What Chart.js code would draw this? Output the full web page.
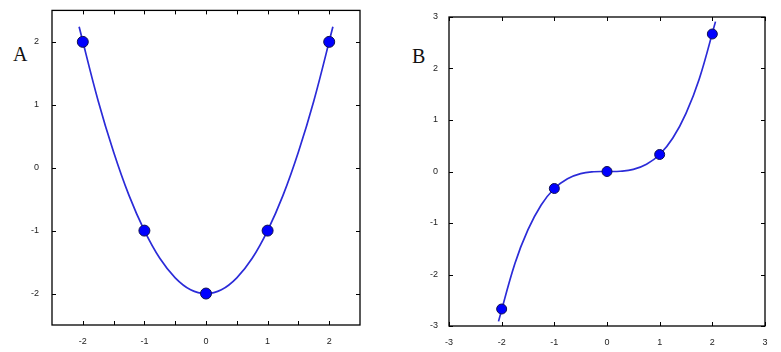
<html><head>
<script src="https://cdn.jsdelivr.net/npm/chart.js"></script>
<title>Interpolating polynomials</title>
<style>
body { margin: 0; background: #fff; width: 781px; height: 352px; position: relative; overflow: hidden; }
.panel { position: absolute; top: 0; }
.tag { position: absolute; font-family: "Liberation Serif", "DejaVu Serif", serif; font-size: 20px; color: #111; }
</style>
</head>
<body>
<div class="tag" style="left:13px; top:43px;">A</div>
<div class="tag" style="left:412px; top:45px;">B</div>
<canvas id="chartA" class="panel" style="left:0px;" width="390" height="352"></canvas>
<canvas id="chartB" class="panel" style="left:390px;" width="391" height="352"></canvas>

<script>
// sample points
const pointsX = [-2, -1, 0, 1, 2];
const pointsAY = [2, -1, -2, -1, 2];
const pointsBY = [-2.67, -0.33, 0, 0.33, 2.67];

// curves
const curveX = [-2.06, -1.75, -1.5, -1.25, -1, -0.75, -0.5, -0.25, 0, 0.25, 0.5, 0.75, 1, 1.25, 1.5, 1.75, 2.06];
const curveAY = [2.24, 1.06, 0.25, -0.44, -1, -1.44, -1.75, -1.94, -2, -1.94, -1.75, -1.44, -1, -0.44, 0.25, 1.06, 2.24];
const curveBY = [-2.91, -1.79, -1.13, -0.65, -0.33, -0.14, -0.04, -0.005, 0, 0.005, 0.04, 0.14, 0.33, 0.65, 1.13, 1.79, 2.91];

// ticks
const ticksAX = [-2, -1.5, -1, -0.5, 0, 0.5, 1, 1.5, 2];
const ticksAY = [-2, -1, 0, 1, 2];
const ticksB = [-3, -2, -1, 0, 1, 2, 3];

const tickFont = {family: '"Liberation Sans", Arial, sans-serif', size: 9};
const lineColor = '#2b2bd8';

const framePlugin = {
  id: 'frame',
  afterDraw(chart) {
    const {ctx, chartArea: a, scales} = chart;
    ctx.save();
    ctx.strokeStyle = '#000';
    ctx.lineWidth = 1.3;
    ctx.strokeRect(a.left, a.top, a.right - a.left, a.bottom - a.top);
    ctx.lineWidth = 1;
    ctx.beginPath();
    scales.x.ticks.forEach(t => {
      const px = Math.round(scales.x.getPixelForValue(t.value)) + 0.5;
      ctx.moveTo(px, a.bottom); ctx.lineTo(px, a.bottom - 4);
      ctx.moveTo(px, a.top); ctx.lineTo(px, a.top + 4);
    });
    scales.y.ticks.forEach(t => {
      const py = Math.round(scales.y.getPixelForValue(t.value)) + 0.5;
      ctx.moveTo(a.left, py); ctx.lineTo(a.left + 4, py);
      ctx.moveTo(a.right, py); ctx.lineTo(a.right - 4, py);
    });
    ctx.stroke();
    ctx.restore();
  }
};

function makeChart(id, opt) {
  const xy = (xs, ys) => xs.map((x, i) => ({x: x, y: ys[i]}));
  return new Chart(document.getElementById(id), {
    type: 'scatter',
    data: {
      datasets: [{
        data: xy(pointsX, opt.pointsY),
        order: 0,
        pointRadius: opt.radius,
        pointBackgroundColor: '#0000ff',
        pointBorderColor: '#101050',
        pointBorderWidth: 1
      }, {
        data: xy(curveX, opt.curveY),
        order: 1,
        showLine: true,
        pointRadius: 0,
        borderColor: lineColor,
        borderWidth: 1.7,
        tension: 0.4
      }]
    },
    options: {
      responsive: false,
      animation: false,
      layout: {padding: opt.padding},
      plugins: {legend: {display: false}, tooltip: {enabled: false}},
      scales: {
        x: {
          type: 'linear',
          min: opt.xRange[0], max: opt.xRange[1],
          grid: {display: false},
          border: {display: false},
          afterBuildTicks: s => { s.ticks = opt.xTicks.map(v => ({value: v})); },
          afterFit: s => { s.height = opt.xHeight; },
          ticks: {
            font: tickFont, color: '#222', padding: 3, maxRotation: 0, autoSkip: false,
            callback: v => Number.isInteger(v) ? String(v) : ''
          }
        },
        y: {
          type: 'linear',
          min: opt.yRange[0], max: opt.yRange[1],
          grid: {display: false},
          border: {display: false},
          afterBuildTicks: s => { s.ticks = opt.yTicks.map(v => ({value: v})); },
          afterFit: s => { s.width = opt.yWidth; },
          ticks: {font: tickFont, color: '#222', padding: opt.yPad, autoSkip: false}
        }
      }
    },
    plugins: [framePlugin]
  });
}

makeChart('chartA', {
  pointsY: pointsAY, curveY: curveAY, radius: 5.5,
  xRange: [-2.5, 2.5], yRange: [-2.5, 2.5],
  xTicks: ticksAX, yTicks: ticksAY,
  padding: {left: 0, top: 8, right: 30, bottom: 0},
  xHeight: 27, yWidth: 52, yPad: 5
});

makeChart('chartB', {
  pointsY: pointsBY, curveY: curveBY, radius: 5,
  xRange: [-3, 3], yRange: [-3, 3],
  xTicks: ticksB, yTicks: ticksB,
  padding: {left: 0, top: 17, right: 16, bottom: 0},
  xHeight: 26, yWidth: 59, yPad: 3
});
</script>
</body></html>
